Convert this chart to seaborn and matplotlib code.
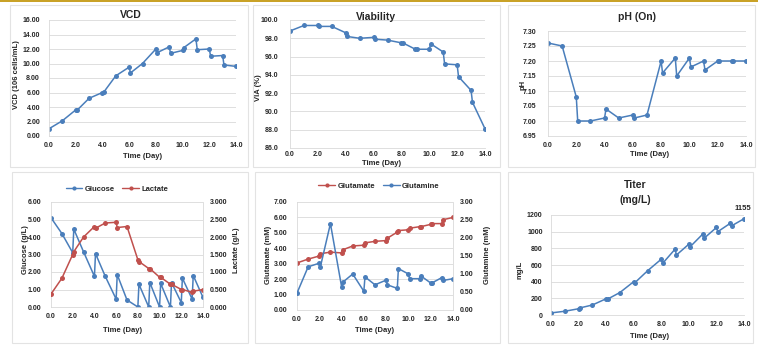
import numpy as np
import pandas as pd
import matplotlib
matplotlib.use("Agg")
import matplotlib.pyplot as plt
from matplotlib.patches import Rectangle
from matplotlib.lines import Line2D
import seaborn as sns

# ---------------- data ----------------
days = [0, 1, 2, 2.1, 3, 4, 4.1, 5, 6, 6.1, 7, 8, 8.1, 9, 9.1, 10, 10.1, 11, 11.1, 12, 12.1, 13, 13.1, 14]
vcd = [1.0, 2.1, 3.6, 3.55, 5.2, 6.0, 6.05, 8.3, 9.5, 8.7, 10.0, 12.0, 11.5, 12.3, 11.4, 11.8, 12.2, 13.4, 11.9, 12.0, 11.0, 11.1, 9.8, 9.6]
viability = [98.8, 99.4, 99.4, 99.3, 99.3, 98.6, 98.2, 98.0, 98.1, 97.9, 97.8, 97.5, 97.5, 96.8, 96.8, 96.8, 97.4, 96.5, 95.2, 95.1, 93.8, 92.3, 91.0, 88.1]
ph = [7.26, 7.25, 7.08, 7.00, 7.00, 7.01, 7.04, 7.01, 7.02, 7.01, 7.02, 7.20, 7.16, 7.21, 7.15, 7.21, 7.18, 7.20, 7.17, 7.20, 7.20, 7.20, 7.20, 7.20]
glucose = [5.1, 4.2, 3.1, 4.45, 3.15, 1.75, 3.05, 1.75, 0.45, 1.85, 0.4, 0.0, 1.3, 0.0, 1.4, 0.0, 1.35, 0.0, 1.4, 0.25, 1.65, 0.45, 1.8, 0.55]
lactate = [0.37, 0.82, 1.5, 1.58, 2.0, 2.3, 2.25, 2.4, 2.42, 2.27, 2.3, 1.35, 1.3, 1.1, 1.1, 0.85, 0.85, 0.65, 0.65, 0.5, 0.5, 0.42, 0.45, 0.5]
glutamate = [3.05, 3.3, 3.5, 3.65, 3.75, 3.7, 3.9, 4.15, 4.2, 4.35, 4.45, 4.5, 4.65, 5.05, 5.15, 5.2, 5.3, 5.4, 5.4, 5.55, 5.6, 5.6, 5.85, 6.0]
glutamine = [0.47, 1.2, 1.3, 1.2, 2.4, 0.65, 0.77, 1.0, 0.52, 0.92, 0.7, 0.83, 0.7, 0.6, 1.15, 1.0, 0.87, 0.87, 0.95, 0.75, 0.75, 0.9, 0.82, 0.87]
titer = [25, 45, 75, 85, 120, 195, 190, 270, 400, 390, 530, 670, 620, 790, 720, 850, 820, 970, 920, 1050, 1000, 1100, 1070, 1155]
x_ticks = [0, 2, 4, 6, 8, 10, 12, 14]

df = pd.DataFrame({"day": days, "vcd": vcd, "via": viability, "ph": ph,
                   "glc": glucose, "lac": lactate, "glu": glutamate,
                   "gln": glutamine, "titer": titer})

# ---------------- style ----------------
sns.set_theme(style="white")
plt.rcParams["font.family"] = ["Liberation Sans", "DejaVu Sans"]
plt.rcParams["font.weight"] = "bold"
plt.rcParams["axes.labelweight"] = "bold"

W, H = 758, 345
BLUE = "#4A7EBB"
RED = "#C0504D"
GRID = "#D9D9D9"
TXT = "#262626"

fig = plt.figure(figsize=(W / 100, H / 100), dpi=100)
fig.patch.set_facecolor("white")

# gold top rule and panel boxes
fig.patches.append(Rectangle((0, 1 - 2 / H), 1, 2 / H, transform=fig.transFigure,
                             facecolor="#C9A227", edgecolor="none"))
for (x0, y0, x1, y1) in [(10, 5, 248, 167), (253, 5, 500, 167), (508, 5, 755, 167),
                         (12, 172, 248, 343), (255, 172, 500, 343), (508, 172, 753, 343)]:
    fig.patches.append(Rectangle((x0 / W, 1 - y1 / H), (x1 - x0) / W, (y1 - y0) / H,
                                 transform=fig.transFigure, facecolor="none",
                                 edgecolor="#E3E3E3", linewidth=0.8))


def make_ax(x0, x1, ytop, ybot):
    ax = fig.add_axes([x0 / W, 1 - ybot / H, (x1 - x0) / W, (ybot - ytop) / H])
    ax._px = (x0, x1, ytop, ybot)
    return ax


def to_axes(ax, px, py):
    x0, x1, ytop, ybot = ax._px
    return (px - x0) / (x1 - x0), (ybot - py) / (ybot - ytop)


def style(ax, ylim, ystep, yfmt, ypad, xlabel_pos, ylabel, ylabel_pos, xpad=4):
    ax.set_xlim(0, 14)
    ax.set_ylim(*ylim)
    ax.set_xticks(x_ticks)
    ax.set_xticklabels([f"{t:.1f}" for t in x_ticks])
    yt = np.arange(ylim[0], ylim[1] + ystep / 2, ystep)
    ax.set_yticks(yt)
    ax.set_yticklabels([yfmt.format(v) for v in yt])
    ax.tick_params(axis="both", length=0, labelsize=5, colors=TXT)
    ax.tick_params(axis="y", pad=ypad)
    ax.tick_params(axis="x", pad=xpad)
    ax.grid(axis="y", color=GRID, linewidth=0.6)
    ax.set_axisbelow(True)
    for s in ["top", "right"]:
        ax.spines[s].set_visible(False)
    for s in ["left", "bottom"]:
        ax.spines[s].set_color(GRID)
        ax.spines[s].set_linewidth(0.6)
    ax.set_xlabel("Time (Day)", fontsize=5.5, fontweight="bold", color=TXT)
    ax.xaxis.set_label_coords(*to_axes(ax, *xlabel_pos))
    ax.xaxis.label.set_va("center")
    ax.set_ylabel(ylabel, fontsize=5.5, fontweight="bold", color=TXT)
    ax.yaxis.set_label_coords(*to_axes(ax, *ylabel_pos))
    ax.yaxis.label.set_va("center")


def line(ax, col, color, label=None):
    sns.lineplot(data=df, x="day", y=col, ax=ax, color=color, marker="o",
                 markersize=3.6, markeredgewidth=0, linewidth=1.1,
                 estimator=None, sort=False, label=label, legend=False)


def title(text, px, py, size=7.5):
    fig.text(px / W, 1 - py / H, text, ha="center", va="center",
             fontsize=size, fontweight="bold", color=TXT)


# ---- VCD ----
ax1 = make_ax(49, 236, 20, 136)
line(ax1, "vcd", BLUE)
style(ax1, (0, 16), 2, "{:.2f}", 6.5, (143, 156), "VCD (106 cells/mL)", (17, 75))
title("VCD", 131, 15)

# ---- Viability ----
ax2 = make_ax(290, 485, 20, 148)
line(ax2, "via", BLUE)
style(ax2, (86, 100), 2, "{:.1f}", 8.5, (382, 163.5), "VIA (%)", (259, 88), xpad=2)
title("Viability", 376, 17)

# ---- pH ----
ax3 = make_ax(548, 746, 31, 136)
line(ax3, "ph", BLUE)
style(ax3, (6.95, 7.30), 0.05, "{:.2f}", 8.5, (650, 155), "pH", (523, 85))
title("pH (On)", 637, 17)

# ---- Glucose / Lactate ----
ax4 = make_ax(51, 203, 202, 307)
line(ax4, "glc", BLUE, "Glucose")
style(ax4, (0, 6), 1, "{:.2f}", 7, (123, 331), "Glucose (g/L)", (25, 250))
ax4r = ax4.twinx()
ax4r._px = ax4._px
line(ax4r, "lac", RED, "Lactate")
ax4r.set_ylim(0, 3)
yt = np.arange(0, 3.01, 0.5)
ax4r.set_yticks(yt)
ax4r.set_yticklabels([f"{v:.3f}" for v in yt])
ax4r.tick_params(axis="y", length=0, labelsize=5, colors=TXT, pad=5)
ax4r.grid(False)
for s in ["top", "left", "bottom"]:
    ax4r.spines[s].set_visible(False)
ax4r.spines["right"].set_color(GRID)
ax4r.spines["right"].set_linewidth(0.6)
ax4r.set_ylabel("Lactate (g/L)", fontsize=5.5, fontweight="bold", color=TXT, rotation=90)
ax4r.yaxis.set_label_coords(*to_axes(ax4r, 237, 250))
ax4r.yaxis.label.set_va("center")
h4 = [Line2D([], [], color=BLUE, marker="o", markersize=3, markeredgewidth=0, lw=1),
      Line2D([], [], color=RED, marker="o", markersize=3, markeredgewidth=0, lw=1)]
fig.legend(h4, ["Glucose", "Lactate"], loc="center", bbox_to_anchor=(117 / W, 1 - 189 / H),
           ncol=2, frameon=False, handlelength=2.2, columnspacing=1.0,
           handletextpad=0.3, prop={"weight": "bold", "size": 5.5})

# ---- Glutamate / Glutamine ----
ax5 = make_ax(297, 453, 202, 310)
line(ax5, "glu", RED, "Glutamate")
style(ax5, (0, 7), 1, "{:.2f}", 7, (375, 331), "Glutamate (mM)", (268, 255))
ax5r = ax5.twinx()
ax5r._px = ax5._px
line(ax5r, "gln", BLUE, "Glutamine")
ax5r.set_ylim(0, 3)
ax5r.set_yticks(yt)
ax5r.set_yticklabels([f"{v:.2f}" for v in yt])
ax5r.tick_params(axis="y", length=0, labelsize=5, colors=TXT, pad=5)
ax5r.grid(False)
for s in ["top", "left", "bottom"]:
    ax5r.spines[s].set_visible(False)
ax5r.spines["right"].set_color(GRID)
ax5r.spines["right"].set_linewidth(0.6)
ax5r.set_ylabel("Glutamine (mM)", fontsize=5.5, fontweight="bold", color=TXT, rotation=90)
ax5r.yaxis.set_label_coords(*to_axes(ax5r, 488, 255))
ax5r.yaxis.label.set_va("center")
h5 = [Line2D([], [], color=RED, marker="o", markersize=3, markeredgewidth=0, lw=1),
      Line2D([], [], color=BLUE, marker="o", markersize=3, markeredgewidth=0, lw=1)]
fig.legend(h5, ["Glutamate", "Glutamine"], loc="center", bbox_to_anchor=(379 / W, 1 - 186 / H),
           ncol=2, frameon=False, handlelength=2.2, columnspacing=1.0,
           handletextpad=0.3, prop={"weight": "bold", "size": 5.5})

# ---- Titer ----
ax6 = make_ax(551, 744, 215, 315)
line(ax6, "titer", BLUE)
style(ax6, (0, 1200), 200, "{:.0f}", 6, (650, 336), "mg/L", (520, 270))
title("Titer", 635, 185, 7.5)
title("(mg/L)", 635, 200, 7.5)
ax6.annotate(f"{titer[-1]}", xy=(days[-1], titer[-1]), xytext=(-1, 5),
             textcoords="offset points", ha="center", va="bottom",
             fontsize=5.5, fontweight="bold", color=TXT, annotation_clip=False)

fig.savefig("out.png", dpi=100, facecolor="white")
